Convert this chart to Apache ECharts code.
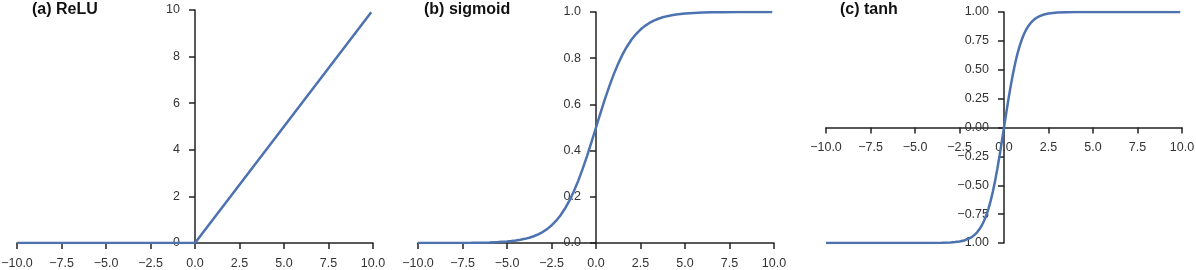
<!DOCTYPE html>
<html><head><meta charset="utf-8">
<script src="https://cdn.jsdelivr.net/npm/echarts@6/dist/echarts.min.js"></script>
<style>html,body{margin:0;padding:0;background:#fff}#c{width:1196px;height:270px}</style>
</head><body><div id="c"></div>
<script>
// Titles
const titles = ["(a) ReLU", "(b) sigmoid", "(c) tanh"];
// ReLU points
const reluX = [-10, 0, 9.9];
const reluY = [0, 0, 9.9];
// sigmoid points
const sigX = [-10,-9,-8,-7,-6.5,-6,-5.5,-5,-4.75,-4.5,-4.25,-4,-3.75,-3.5,-3.25,-3,-2.75,-2.5,-2.25,-2,-1.75,-1.5,-1.25,-1,-0.75,-0.5,-0.25,0,
              0.25,0.5,0.75,1,1.25,1.5,1.75,2,2.25,2.5,2.75,3,3.25,3.5,3.75,4,4.25,4.5,4.75,5,5.5,6,6.5,7,8,9,9.9];
const sigY = [0.0000,0.0001,0.0003,0.0009,0.0015,0.0025,0.0041,0.0067,0.0086,0.0110,0.0140,0.0180,0.0230,0.0293,0.0373,0.0474,0.0601,0.0759,0.0953,0.1192,0.1480,0.1824,0.2227,0.2689,0.3208,0.3775,0.4378,0.5000,
              0.5622,0.6225,0.6792,0.7311,0.7773,0.8176,0.8520,0.8808,0.9047,0.9241,0.9399,0.9526,0.9627,0.9707,0.9770,0.9820,0.9860,0.9890,0.9914,0.9933,0.9959,0.9975,0.9985,0.9991,0.9997,0.9999,1.0000];
// tanh points
const tanhX = [-10,-8,-6,-5,-4,-3.5,-3,-2.75,-2.5,-2.25,-2,-1.875,-1.75,-1.625,-1.5,-1.375,-1.25,-1.125,-1,-0.875,-0.75,-0.625,-0.5,-0.375,-0.25,-0.125,0,
               0.125,0.25,0.375,0.5,0.625,0.75,0.875,1,1.125,1.25,1.375,1.5,1.625,1.75,1.875,2,2.25,2.5,2.75,3,3.5,4,5,6,8,9.9];
const tanhY = [-1.0000,-1.0000,-1.0000,-0.9999,-0.9993,-0.9982,-0.9951,-0.9919,-0.9866,-0.9780,-0.9640,-0.9540,-0.9414,-0.9254,-0.9051,-0.8798,-0.8483,-0.8093,-0.7616,-0.7039,-0.6351,-0.5546,-0.4621,-0.3584,-0.2449,-0.1244,0.0000,
               0.1244,0.2449,0.3584,0.4621,0.5546,0.6351,0.7039,0.7616,0.8093,0.8483,0.8798,0.9051,0.9254,0.9414,0.9540,0.9640,0.9780,0.9866,0.9919,0.9951,0.9982,0.9993,0.9999,1.0000,1.0000,1.0000];
// axis ranges / ticks
const xMin = -10, xMax = 10, xStep = 2.5;
const yRanges = [[0, 10, 2, 0], [0, 1, 0.2, 1], [-1, 1, 0.25, 2]]; // min, max, interval, decimals

const zip = (a, b) => a.map((v, i) => [v, b[i]]);
const fmt = (v, d) => { const s = Math.abs(v).toFixed(d); return (v < -1e-9 ? '\u2212' : '') + s; };

const W = 1196, H = 270;
const grids = [
  {left: 17, right: W - 373, top: 10, bottom: H - 243, outerBoundsMode: 'none', containLabel: false},
  {left: 418, right: W - 774, top: 12, bottom: H - 243, outerBoundsMode: 'none', containLabel: false},
  {left: 826, right: W - 1182, top: 12, bottom: H - 243, outerBoundsMode: 'none', containLabel: false}
];
const titleLeft = [32, 424, 840];
const axisCol = '#222';
const labelStyle = {color: '#333', fontSize: 12.5, fontFamily: 'Liberation Sans, Arial, sans-serif'};
const lineColor = '#4c72b0';
const datasets = [zip(reluX, reluY), zip(sigX, sigY), zip(tanhX, tanhY)];

// pixel offset of the zero line from the grid edge, derived from grid size and axis range
function yAxisOffset(i) {
  const g = grids[i]; const w = W - g.left - g.right;
  return -w * (0 - xMin) / (xMax - xMin);
}
function xAxisOffset(i) {
  const g = grids[i]; const h = H - g.top - g.bottom;
  const [mn, mx] = yRanges[i];
  return -h * (0 - mn) / (mx - mn);
}

const option = {
  backgroundColor: '#fff',
  animation: false,
  title: titles.map((t, i) => ({
    text: t, left: titleLeft[i], top: 2, padding: 0,
    textStyle: {fontSize: 16, fontWeight: 'bold', color: '#111', fontFamily: 'Liberation Sans, Arial, sans-serif'}
  })),
  grid: grids,
  xAxis: grids.map((g, i) => ({
    type: 'value', gridIndex: i, min: xMin, max: xMax, interval: xStep,
    position: 'bottom', offset: xAxisOffset(i),
    axisLine: {show: true, onZero: false, lineStyle: {color: axisCol, width: 1.5}},
    axisTick: {show: true, length: 6, lineStyle: {color: axisCol, width: 1.5}},
    axisLabel: Object.assign({margin: 14, formatter: v => fmt(v, 1)}, labelStyle),
    splitLine: {show: false}
  })),
  yAxis: grids.map((g, i) => ({
    type: 'value', gridIndex: i, min: yRanges[i][0], max: yRanges[i][1], interval: yRanges[i][2],
    position: 'left', offset: yAxisOffset(i),
    axisLine: {show: true, onZero: false, lineStyle: {color: axisCol, width: 1.5}},
    axisTick: {show: true, length: 6, lineStyle: {color: axisCol, width: 1.5}},
    axisLabel: Object.assign({margin: 15, formatter: v => fmt(v, yRanges[i][3])}, labelStyle),
    splitLine: {show: false}
  })),
  series: datasets.map((d, i) => ({
    type: 'line', xAxisIndex: i, yAxisIndex: i, data: d,
    showSymbol: false, smooth: false,
    lineStyle: {color: lineColor, width: 2.5}, z: 1
  }))
};
echarts.init(document.getElementById('c')).setOption(option);
</script></body></html>
